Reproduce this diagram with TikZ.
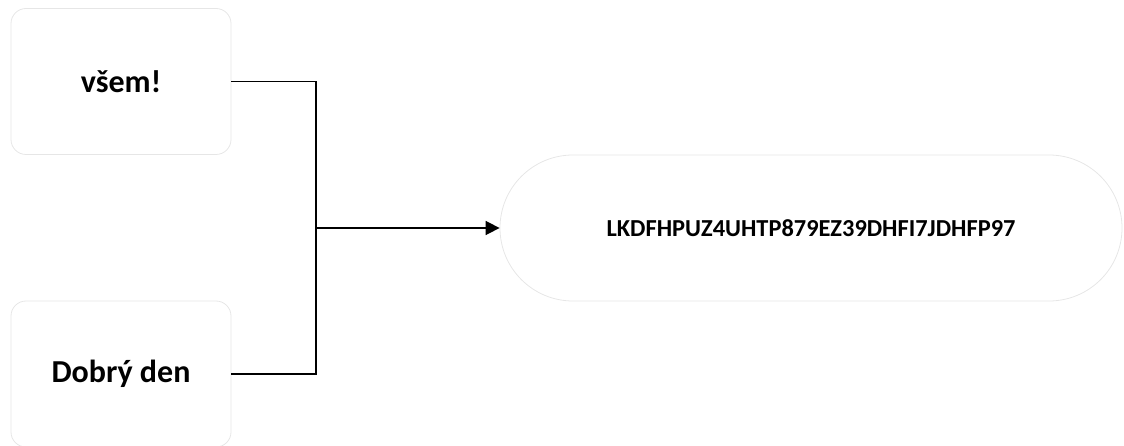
\documentclass[tikz,border=0pt]{standalone}
\usepackage{fontspec}
\setmainfont{Carlito}
\usetikzlibrary{arrows.meta}

\definecolor{boxline}{HTML}{E6E6E6}

\begin{document}
\begin{tikzpicture}[x=1pt, y=-1pt, every path/.style={line width=1.6pt},
    wordbox/.style={draw=boxline, line width=0.8pt, rectangle, rounded corners=15pt,
      minimum width=220pt, minimum height=146pt, font=\bfseries\fontsize{32}{38}\selectfont},
    keybox/.style={draw=boxline, line width=0.8pt, rectangle, rounded corners=73pt,
      minimum width=622pt, minimum height=146pt, font=\bfseries\fontsize{24.4}{29}\selectfont}]
  \useasboundingbox (0,0) rectangle (1124,446);

  % 1. the two words
  \node[wordbox] (vsem) at (121,81.5) {všem!};
  \node[wordbox] (dobry) at (121,374) {Dobrý den};

  % 2. the key
  \node[keybox] (key) at (811,228) {LKDFHPUZ4UHTP879EZ39DHFI7JDHFP97};

  % 3. joining lines
  \coordinate (join) at (316,228);
  \draw (vsem.east) -| (join);
  \draw (dobry.east) -| (join);
  \draw[-{Triangle[length=14pt, width=14pt]}] (join) -- (key.west);
\end{tikzpicture}
\end{document}
